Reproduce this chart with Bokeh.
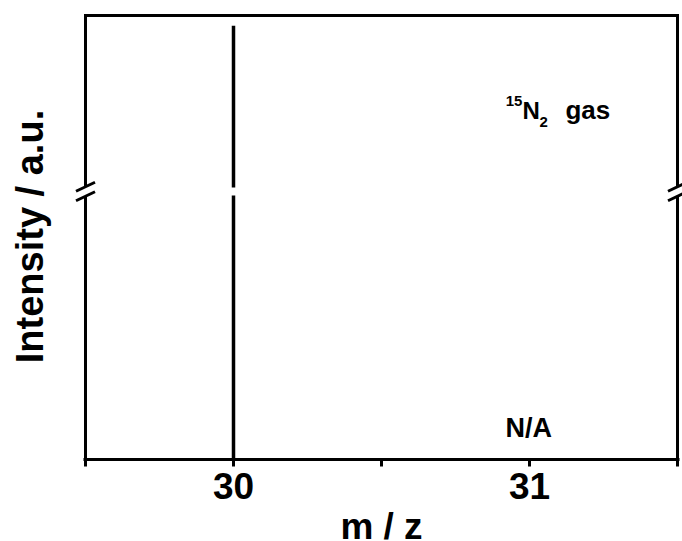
from bokeh.plotting import figure
from bokeh.models import FixedTicker, ColumnDataSource, Range1d
from bokeh.core.properties import value
from bokeh.embed import file_html
from bokeh.resources import INLINE

# ---- data: stick mass spectrum -------------------------------------------
mz = [30.0]              # m/z of the detected line
intensity = [0.977]      # relative intensity (axis is broken, a.u.)
x_major = [30, 31]
x_minor = [29.5, 30.5, 31.5]
x_lo, x_hi = 29.5, 31.5
y_lo, y_hi = 0.0, 1.0
break_y = 0.6036         # where the intensity axis is broken

FONT = "Liberation Sans"
W, H = 682, 541
ML, MR, MT, MB = 83, 3, 13, 82     # borders around the frame
PAD = 2                            # px between frame edge and drawn box

# pixels per data unit inside the drawn box
px_x = (W - ML - MR - 2 * PAD) / (x_hi - x_lo)
px_y = (H - MT - MB - PAD) / (y_hi - y_lo)

p = figure(width=W, height=H, output_backend="svg", toolbar_location=None,
           x_range=Range1d(x_lo - PAD / px_x, x_hi + PAD / px_x),
           y_range=Range1d(y_lo, y_hi + PAD / px_y),
           min_border_left=ML, min_border_right=MR,
           min_border_top=MT, min_border_bottom=MB)
p.outline_line_color = None
p.grid.visible = False
p.background_fill_color = "white"
p.border_fill_color = "white"

# bottom axis
xa = p.xaxis[0]
xa.ticker = FixedTicker(ticks=x_major, minor_ticks=x_minor)
xa.axis_line_width = 3
xa.axis_line_color = "black"
xa.major_tick_in = 0
xa.major_tick_out = 7
xa.minor_tick_in = 0
xa.minor_tick_out = 7
xa.major_tick_line_width = 3
xa.minor_tick_line_width = 3
xa.major_tick_line_color = "black"
xa.minor_tick_line_color = "black"
xa.major_label_text_font = FONT
xa.major_label_text_font_style = "bold"
xa.major_label_text_font_size = "37px"
xa.major_label_text_color = "black"
xa.major_label_standoff = 6

# left axis: label only, the line is drawn with the break
ya = p.yaxis[0]
ya.ticker = FixedTicker(ticks=[])
ya.axis_line_color = None
ya.major_tick_out = 0
ya.major_tick_in = 0
ya.minor_tick_out = 0
ya.minor_tick_in = 0
ya.major_label_standoff = 0
ya.axis_label = "Intensity / a.u."
ya.axis_label_text_font = FONT
ya.axis_label_text_font_style = "bold"
ya.axis_label_text_font_size = "38px"
ya.axis_label_text_color = "black"
ya.axis_label_standoff = 33

# frame with a gap at the axis break
sep = 4.75 / px_y
gap_lo, gap_hi = break_y - sep, break_y + sep
p.multi_line(
    xs=[[x_lo, x_lo, x_hi, x_hi], [x_lo, x_lo], [x_hi, x_hi]],
    ys=[[gap_hi, y_hi, y_hi, gap_hi], [y_lo, gap_lo], [y_lo, gap_lo]],
    line_color="black", line_width=3, line_join="miter", level="overlay")

# break marks (double slashes) on both vertical axes
dx, dy = 9.5 / px_x, 4.5 / px_y
sx0, sy0, sx1, sy1 = [], [], [], []
for xc in (x_lo, x_hi):
    for yc in (gap_lo, gap_hi):
        sx0.append(xc - dx); sy0.append(yc - dy)
        sx1.append(xc + dx); sy1.append(yc + dy)
p.segment(x0=sx0, y0=sy0, x1=sx1, y1=sy1, line_color="black", line_width=3,
          level="overlay")

# spectrum sticks, interrupted at the break
peak_gap = 4.0 / px_y
low = ColumnDataSource(dict(x=mz, y0=[y_lo] * len(mz),
                            y1=[min(v, break_y - peak_gap) for v in intensity]))
high_mz = [m for m, v in zip(mz, intensity) if v > break_y + peak_gap]
high_v = [v for v in intensity if v > break_y + peak_gap]
high = ColumnDataSource(dict(x=high_mz, y0=[break_y + peak_gap] * len(high_mz), y1=high_v))
for src in (low, high):
    p.segment(x0="x", y0="y0", x1="x", y1="y1", source=src,
              line_color="black", line_width=3.5)

# free texts; the alphabetic baseline sits about a third of an em low in
# the SVG output, so lift each text by that amount
def add_text(text, x, y, size, x_offset=0, y_offset=0, align="left"):
    lift = round(0.33 * size)
    p.text(x=[x], y=[y], text=[text], x_offset=x_offset, y_offset=-(y_offset + lift),
           text_font=value(FONT), text_font_style="bold",
           text_font_size=f"{size}px", text_color="black",
           text_align=align, text_baseline="alphabetic", level="overlay")

gx, gy = 30.976, 0.768
add_text("15", gx, gy, 15, x_offset=0, y_offset=13, align="right")
add_text("N", gx, gy, 24)
add_text("2", gx, gy, 15, x_offset=17, y_offset=-8)
add_text("gas", gx, gy, 26, x_offset=43)

add_text("N/A", 30.919, 0.05, 27)

# horizontal axis title
add_text("m / z", (x_lo + x_hi) / 2, y_lo - 79 / px_y, 37, align="center")

open("out.html", "w").write(file_html(p, INLINE))
